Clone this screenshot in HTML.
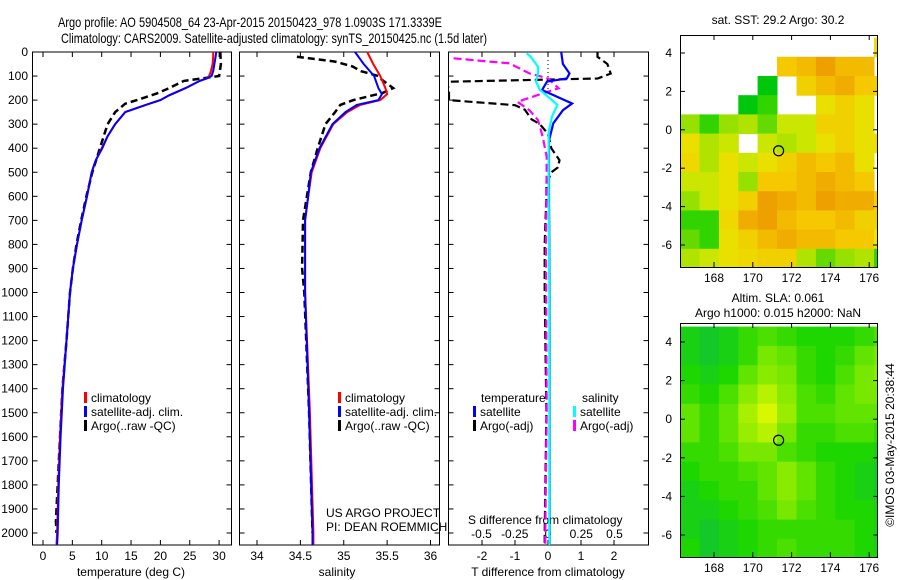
<!DOCTYPE html>
<html><head><meta charset="utf-8"><style>
html,body{margin:0;padding:0;background:#fff;}
svg{display:block;font-family:"Liberation Sans",sans-serif;}
text{font-size:12px;fill:#000;}
</style></head><body>
<svg id="chart" width="900" height="580" viewBox="0 0 900 580" xmlns="http://www.w3.org/2000/svg">
<text x="58" y="27" style="font-size:14px" textLength="384" lengthAdjust="spacingAndGlyphs">Argo profile: AO 5904508_64 23-Apr-2015 20150423_978 1.0903S 171.3339E</text>
<text x="61" y="43" style="font-size:14px" textLength="426" lengthAdjust="spacingAndGlyphs">Climatology: CARS2009. Satellite-adjusted climatology: synTS_20150425.nc (1.5d later)</text>
<g id="g"></g>
</svg>
<script>
// ---- data ----
const depthT = [0,20,50,80,100,110,120,150,180,200,220,250,300,350,400,450,500,600,700,800,900,1000,1200,1400,1600,1800,2000,2050];
const tempClim = [29,29,28.9,28.6,28.3,27.8,26.7,24.3,21.5,20,17.5,14,12.3,11,10,9,8.3,7.5,6.6,5.8,5.1,4.6,4,3.3,2.9,2.6,2.4,2.3];
const tempSat  = [29.5,29.4,29.2,29,28.7,27.9,26.7,24.3,21.5,20,17.5,14,12.3,11,10.1,9,8.3,7.5,6.6,5.8,5.1,4.6,4,3.4,3,2.7,2.5,2.4];
const depthTA = [0,50,100,110,120,150,172,200,215,250,300,400,500,600,700,800,900,1000,1200,1400,1600,1800,1950,2000];
const tempArgo = [30.2,30.3,30,27,24,21.5,19.4,16,14,12.3,11,9.7,8.4,7.4,6.5,5.7,5.1,4.6,4,3.3,2.9,2.5,2.2,2.3];
const depthS = [0,50,100,150,175,200,220,250,300,400,500,600,700,1000,1500,2000,2050];
const salClim = [35.27,35.34,35.42,35.48,35.5,35.42,35.19,35.04,34.88,34.73,34.63,34.59,34.555,34.555,34.61,34.65,34.65];
const salSat  = [35.13,35.23,35.35,35.4,35.44,35.4,35.15,35.02,34.87,34.72,34.62,34.59,34.555,34.555,34.6,34.64,34.64];
const depthSA = [20,40,60,80,100,110,150,170,200,220,250,300,400,500,700,900,1000,1500,2000];
const salArgo = [34.46,34.9,35.1,35.2,35.4,35.42,35.57,35.45,35.11,34.96,34.9,34.79,34.7,34.62,34.53,34.52,34.545,34.6,34.64];
const depthDTA = [0,20,50,90,110,124,130,150,180,200,221,240,260,280,300,340,400,450,480,500,550,600,800,1000,1500,2000,2050];
const dTArgo = [1.5,1.5,1.8,1.9,1.5,-3.1,-3.1,-3.0,-3.0,-3.0,-1.0,-0.7,-0.6,-0.5,-0.25,0,0.1,0.35,0.3,0.1,-0.05,-0.05,-0.1,-0.1,-0.05,-0.1,-0.1];
const depthDTS = [0,50,89,110,123,158,197,214,242,297,367,600,1000,2000,2050];
const dTSat = [0.4,0.45,0.65,0.57,-0.03,-0.18,0.45,0.73,0.45,0.16,0.03,0.03,0.05,0.05,0.05];
const depthDSS = [6,20,61,89,123,158,193,220,269,330,600,1000,2000,2050];
const dSSat = [-0.16,-0.13,-0.075,-0.075,-0.09,-0.06,0.015,0.07,0.03,0.005,0.005,0.01,0.01,0.01];
const depthDSA = [26,40,47,89,110,151,172,207,242,283,353,436,800,1500,2000,2050];
const dSArgo = [-0.71,-0.44,-0.29,-0.14,0,0.08,-0.04,-0.23,-0.14,-0.075,-0.04,-0.01,-0.015,-0.01,-0.02,-0.02];
const depthTicks = [0,100,200,300,400,500,600,700,800,900,1000,1100,1200,1300,1400,1500,1600,1700,1800,1900,2000];
const tempTicks = [0,5,10,15,20,25,30];
const salTicks = [34,34.5,35,35.5,36];
const salTickLabels = ["34","34.5","35","35.5","36"];
const dTTicks = [-2,-1,0,1,2];
const dSTicks = [-0.5,-0.25,0,0.25,0.5];
const dSTickLabels = ["-0.5","-0.25","0","0.25","0.5"];
const lonTicks = [168,170,172,174,176];
const latTicks = [4,2,0,-2,-4,-6];
const sstGrid = [
[null,null,null,null,null,null,null,null,null,null,0.6],
[null,null,null,null,null,0.75,0.8,0.9,0.8,0.8,null],
[null,null,null,null,0.2,null,0.7,0.8,0.85,0.75,0.7],
[null,null,null,0.2,0.3,null,null,0.6,0.7,0.6,null],
[0.4,0.3,0.4,0.45,0.35,0.5,0.5,0.7,0.7,0.6,null],
[0.6,0.45,0.5,null,0.5,0.45,0.5,0.6,0.7,0.6,0.6],
[0.65,0.45,0.6,0.5,0.6,0.7,0.8,0.75,0.8,0.6,null],
[0.5,0.5,0.6,0.4,0.75,0.75,0.8,0.85,0.8,0.75,null],
[0.4,0.5,0.6,0.7,0.9,0.85,0.8,0.9,0.85,0.85,0.7],
[0.3,0.3,0.65,0.85,0.9,0.8,0.75,0.75,0.8,0.7,0.7],
[0.35,0.3,0.6,0.7,0.8,0.85,0.8,0.8,0.75,0.75,0.55],
[0.45,0.5,0.6,0.65,0.7,0.7,0.45,0.35,0.4,0.45,0.3]];
const slaGrid = [
[0.3,0.25,0.3,0.4,0.45,0.4,0.35,0.35,0.35,0.4,0.45],
[0.3,0.25,0.3,0.4,0.55,0.5,0.4,0.35,0.4,0.5,0.55],
[0.35,0.3,0.35,0.5,0.6,0.55,0.4,0.35,0.45,0.55,0.6],
[0.4,0.35,0.45,0.6,0.75,0.6,0.45,0.4,0.5,0.55,0.55],
[0.5,0.4,0.5,0.7,0.85,0.65,0.45,0.45,0.5,0.5,0.5],
[0.5,0.4,0.5,0.65,0.75,0.55,0.4,0.4,0.45,0.45,0.4],
[0.4,0.4,0.45,0.55,0.55,0.45,0.4,0.35,0.35,0.35,0.3],
[0.35,0.4,0.4,0.45,0.5,0.6,0.5,0.4,0.35,0.3,0.25],
[0.3,0.35,0.4,0.4,0.5,0.6,0.5,0.4,0.35,0.3,0.25],
[0.3,0.3,0.35,0.4,0.45,0.55,0.45,0.4,0.35,0.35,0.3],
[0.3,0.25,0.3,0.35,0.4,0.4,0.4,0.4,0.4,0.35,0.3],
[0.35,0.25,0.3,0.35,0.4,0.45,0.4,0.4,0.4,0.35,0.3]];
const floatLon = 171.33, floatLat = -1.09;

// ---- helpers ----
const NS="http://www.w3.org/2000/svg";
const G=document.getElementById('g');
function mk(tag,attrs,parent){const e=document.createElementNS(NS,tag);for(const k in attrs)e.setAttribute(k,attrs[k]);(parent||G).appendChild(e);return e;}
function txt(s,x,y,anchor,size){const t=mk('text',{x:x,y:y,'text-anchor':anchor||'start'});if(size)t.style.fontSize=size+'px';t.textContent=s;return t;}
const yTop=52, yBot=545;
const yD=d=>yTop+d*0.2405;
const xT=v=>43+v*5.87;
const xS=v=>257+(v-34)*86.75;
const xDT=v=>548+v*33;
const xDS=v=>548+v*133;
function line(xs,ds,fx,color,dash,w){
  const pts=xs.map((v,i)=>fx(v).toFixed(1)+','+yD(ds[i]).toFixed(1)).join(' ');
  const p=mk('polyline',{points:pts,fill:'none',stroke:color,'stroke-width':w||2});
  if(dash)p.setAttribute('stroke-dasharray',dash);
  return p;
}
function frame(x0,x1,name){
  const r=mk('rect',{x:x0,y:yTop,width:x1-x0,height:yBot-yTop,fill:'none',stroke:'#000','stroke-width':1});
  
  
  depthTicks.forEach(d=>{mk('line',{x1:x0,x2:x0+5,y1:yD(d),y2:yD(d),stroke:'#000'});mk('line',{x1:x1,x2:x1-5,y1:yD(d),y2:yD(d),stroke:'#000'});});
}

// ---- panel 1: temperature ----
frame(32.5,231.5,'temperature-panel');
depthTicks.forEach(d=>{const t=txt(String(d),28,yD(d)+4,'end');});
tempTicks.forEach(v=>{mk('line',{x1:xT(v),x2:xT(v),y1:yTop,y2:yTop+5,stroke:'#000'});mk('line',{x1:xT(v),x2:xT(v),y1:yBot,y2:yBot-5,stroke:'#000'});
 const t=txt(String(v),xT(v),560,'middle');});
let e=txt('temperature (deg C)',131,576,'middle');
e=line(tempArgo,depthTA,xT,'#000','7,4',2.5);
e=line(tempClim,depthT,xT,'#f00',null,2);
e=line(tempSat,depthT,xT,'#00f',null,2);

// ---- panel 2: salinity ----
frame(239.5,439.5,'salinity-panel');
salTicks.forEach((v,i)=>{mk('line',{x1:xS(v),x2:xS(v),y1:yTop,y2:yTop+5,stroke:'#000'});mk('line',{x1:xS(v),x2:xS(v),y1:yBot,y2:yBot-5,stroke:'#000'});
 const t=txt(salTickLabels[i],xS(v),560,'middle');});
e=txt('salinity',337,576,'middle');
e=line(salArgo,depthSA,xS,'#000','7,4',2.5);
e=line(salClim,depthS,xS,'#f00',null,2);
e=line(salSat,depthS,xS,'#00f',null,2);
e=txt('US ARGO PROJECT',326,517);
e=txt('PI: DEAN ROEMMICH',326,531);

// legends
function legendEntry(x,y,color,label,name){
  const m=mk('rect',{x:x,y:y-10,width:3,height:11,fill:color});
  
  
  const t=txt(label,x+7,y);
  
  
}
[[84,'climatology','#f00'],[84,'satellite-adj. clim.','#00f'],[84,'Argo(..raw -QC)','#000']].forEach((r,i)=>legendEntry(r[0],402+i*14,r[2],r[1],'temp-legend-entry'));
[[338,'climatology','#f00'],[338,'satellite-adj. clim.','#00f'],[338,'Argo(..raw -QC)','#000']].forEach((r,i)=>legendEntry(r[0],402+i*14,r[2],r[1],'sal-legend-entry'));

// ---- panel 3: differences ----
frame(448.5,648.5,'difference-panel');
mk('line',{x1:548,x2:548,y1:yTop,y2:yD(200),stroke:'#000','stroke-dasharray':'1,3'});
dTTicks.forEach(v=>{mk('line',{x1:xDT(v),x2:xDT(v),y1:yTop,y2:yTop+5,stroke:'#000'});mk('line',{x1:xDT(v),x2:xDT(v),y1:yBot,y2:yBot-5,stroke:'#000'});
 const t=txt(String(v),xDT(v),560,'middle');});
dSTicks.forEach((v,i)=>{const t=txt(dSTickLabels[i],xDS(v),538,'middle');});
e=txt('T difference from climatology',548,576,'middle');
e=txt('S difference from climatology',468,524);
const clip=mk('clipPath',{id:'c3'});mk('rect',{x:449,y:yTop,width:199,height:yBot-yTop},clip);
const g3=mk('g',{'clip-path':'url(#c3)'});
function line3(xs,ds,fx,color,dash,name){const p=line(xs,ds,fx,color,dash,2.2);g3.appendChild(p);}
line3(dTArgo,depthDTA,xDT,'#000','8,4','t-diff-argo-line');
line3(dSArgo,depthDSA,xDS,'#f0f','8,4','s-diff-argo-line');
line3(dTSat,depthDTS,xDT,'#00f',null,'t-diff-satellite-line');
line3(dSSat,depthDSS,xDS,'#0ff',null,'s-diff-satellite-line');
e=txt('temperature',481,402);
e=txt('salinity',582,402);
legendEntry(473,416,'#00f','satellite','t-diff-legend-entry');
legendEntry(473,430,'#000','Argo(-adj)','t-diff-legend-entry');
legendEntry(573,416,'#0ff','satellite','s-diff-legend-entry');
legendEntry(573,430,'#f0f','Argo(-adj)','s-diff-legend-entry');

// ---- maps ----
function interp(stops,v){
  if(v<=stops[0][0])return 'rgb('+stops[0][1].join(',')+')';
  for(let i=1;i<stops.length;i++){if(v<=stops[i][0]){const a=stops[i-1],b=stops[i],f=(v-a[0])/(b[0]-a[0]);return 'rgb('+a[1].map((c,k)=>Math.round(c+(b[1][k]-c)*f)).join(',')+')';}}
  return 'rgb('+stops[stops.length-1][1].join(',')+')';
}
const sstStops=[[0,[0,170,60]],[0.25,[0,205,0]],[0.4,[150,225,0]],[0.55,[230,232,0]],[0.75,[245,200,0]],[0.9,[238,160,0]],[1,[225,125,0]]];
const slaStops=[[0.25,[20,200,40]],[0.35,[30,215,0]],[0.55,[120,232,0]],[0.85,[215,248,0]]];
function drawMap(x0,x1,yT,yB,lat4y,latm6y,grid,stops,name,titleLines){
  const lonX=l=>714+(l-168)*19.4;
  const latY=l=>lat4y+(4-l)*(latm6y-lat4y)/10;
  const cl=mk('clipPath',{id:'c'+name});mk('rect',{x:x0,y:yT,width:x1-x0,height:yB-yT},cl);
  const gm=mk('g',{'clip-path':'url(#c'+name+')'});
  
  
  grid.forEach((row,r)=>row.forEach((v,c)=>{
    if(v===null)return;
    const lon=166.25+c, lat=4.8-r;
    const xa=lonX(lon), xb=lonX(lon+1), ya=latY(lat), yb=latY(lat-1);
    const cell=mk('rect',{x:xa.toFixed(1),y:ya.toFixed(1),width:(xb-xa+0.5).toFixed(1),height:(yb-ya+0.5).toFixed(1),fill:interp(stops,v)},gm);
    
    
  }));
  const fr=mk('rect',{x:x0+0.5,y:yT+0.5,width:x1-x0,height:yB-yT,fill:'none',stroke:'#000'});
  
  lonTicks.forEach(l=>{mk('line',{x1:lonX(l),x2:lonX(l),y1:yT,y2:yT+5,stroke:'#000'});mk('line',{x1:lonX(l),x2:lonX(l),y1:yB,y2:yB-5,stroke:'#000'});
    const t=txt(String(l),lonX(l),yB+15,'middle');});
  latTicks.forEach(l=>{mk('line',{x1:x0,x2:x0+5,y1:latY(l),y2:latY(l),stroke:'#000'});mk('line',{x1:x1+1,x2:x1-4,y1:latY(l),y2:latY(l),stroke:'#000'});
    const t=txt(String(l),x0-8,latY(l)+4,'end');});
  const c=mk('circle',{cx:lonX(floatLon),cy:latY(floatLat),r:5,fill:'none',stroke:'#000','stroke-width':1.2});
  
  titleLines.forEach((s,i)=>{const t=txt(s[0],s[1],s[2],'middle');});
}
drawMap(680,877,35,267,53,245,sstGrid,sstStops,'sst-map',[['sat. SST: 29.2  Argo: 30.2',778,24]]);
drawMap(680,877,323,557,342,535,slaGrid,slaStops,'sla-map',[['Altim. SLA: 0.061',778,302],['Argo h1000: 0.015 h2000: NaN',778,317]]);
e=txt('©IMOS 03-May-2015 20:38:44',0,0,'middle');
e.setAttribute('transform','translate(894,445) rotate(-90)');


</script>
</body></html>
